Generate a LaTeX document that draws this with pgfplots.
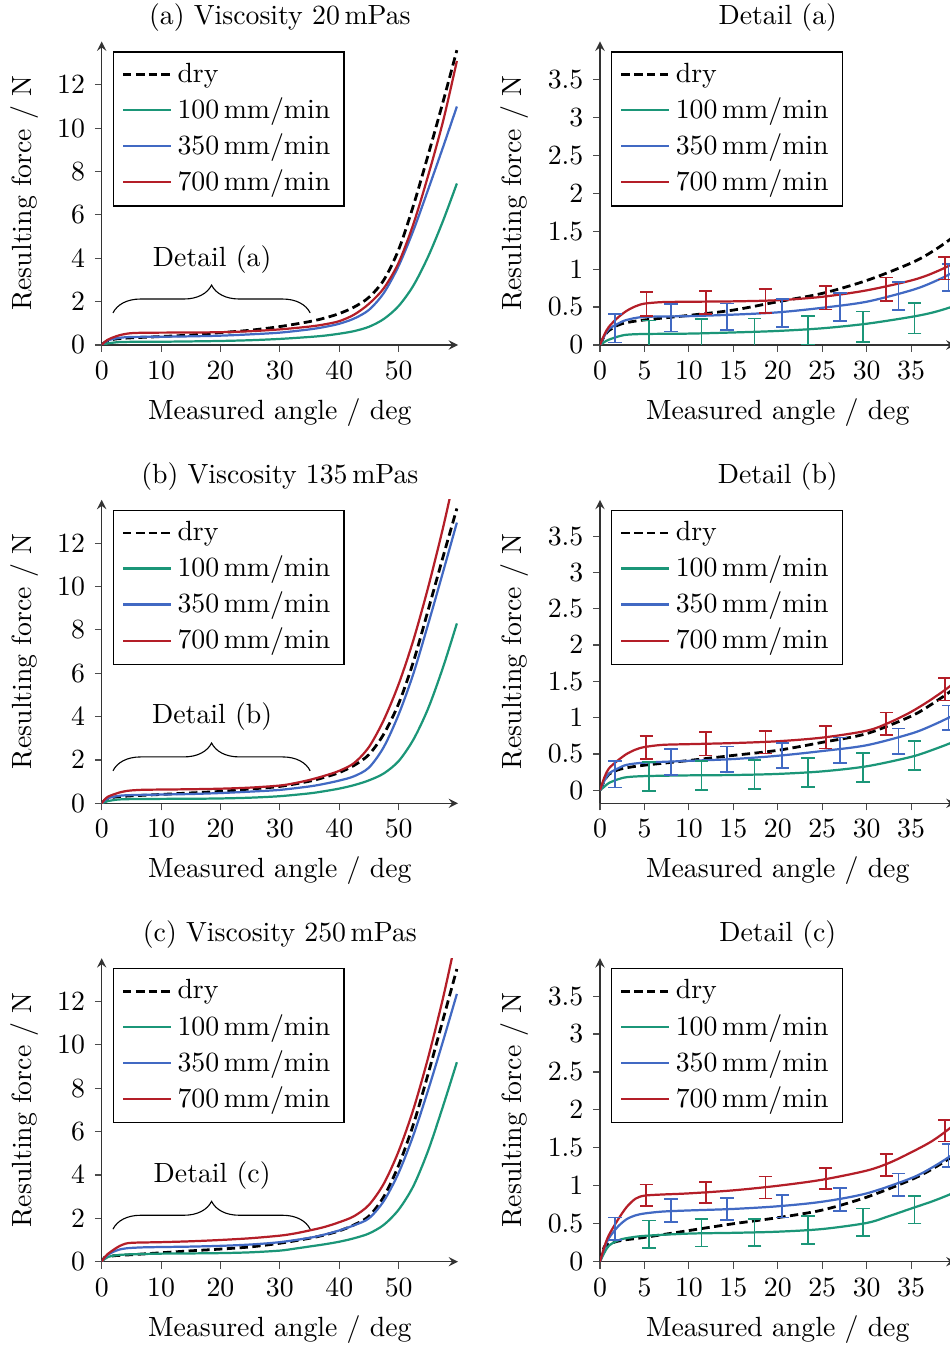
\documentclass[border=0pt]{standalone}
\usepackage{pgfplots}
\pgfplotsset{compat=1.18}
\usepackage{pgfplotstable}
\usetikzlibrary{decorations.pathreplacing}

\definecolor{cgreen}{RGB}{27,150,120}
\definecolor{cblue}{RGB}{65,105,195}
\definecolor{cred}{RGB}{180,30,40}

% ---------- (a) 20 mPas ----------
\pgfplotstableread{
x y
0 0
0.5 0.12
1 0.19
2 0.26
3 0.295
5 0.33
10 0.39
15 0.46
20 0.57
25 0.68
30 0.85
35 1.08
37.5 1.24
40 1.45
42.5 1.75
45 2.2
47.5 3.0
50 4.4
52.5 6.45
55 8.8
57.5 11.25
59.8 13.6
}\drya
\pgfplotstableread{
x y
0 0
0.5 0.04
1 0.07
2 0.11
3 0.135
5 0.145
10 0.15
15 0.165
20 0.185
25 0.22
30 0.28
35 0.37
37.5 0.43
40 0.52
42.5 0.64
45 0.84
47.5 1.2
50 1.8
52.5 2.75
55 4.1
57.5 5.75
59.8 7.45
}\greena
\pgfplotstableread{
x y
0 0
0.5 0.12
1 0.21
2 0.28
3 0.33
5 0.37
10 0.38
15 0.40
20 0.43
25 0.49
30 0.57
35 0.72
37.5 0.83
40 0.98
42.5 1.22
45 1.62
47.5 2.4
50 3.65
52.5 5.3
55 7.2
57.5 9.15
59.8 11.0
}\bluea
\pgfplotstableread{
x y
0 0
0.5 0.14
1 0.24
2 0.36
3 0.45
4 0.51
5 0.545
7 0.565
10 0.57
15 0.575
20 0.59
25 0.635
30 0.72
35 0.85
37.5 0.95
40 1.1
42.5 1.4
45 1.9
47.5 2.62
50 3.8
52.5 5.6
55 7.85
57.5 10.35
59.8 13.1
}\reda
\pgfplotstableread{
x y e
5.5 0.15 0.17
11.4 0.16 0.18
17.4 0.17 0.18
23.4 0.19 0.19
29.6 0.24 0.20
35.4 0.35 0.20
}\errga
\pgfplotstableread{
x y e
1.7 0.22 0.19
8.0 0.36 0.18
14.3 0.37 0.175
20.5 0.42 0.185
27.0 0.50 0.185
33.6 0.645 0.185
39.2 0.89 0.18
}\errba
\pgfplotstableread{
x y e
5.25 0.54 0.16
11.9 0.56 0.15
18.6 0.58 0.155
25.4 0.625 0.155
32.2 0.735 0.155
38.8 1.01 0.15
}\errra

% ---------- (b) 135 mPas ----------
\pgfplotstableread{
x y
0 0
0.5 0.13
1 0.22
2 0.28
3 0.31
5 0.345
10 0.41
15 0.48
20 0.55
25 0.66
30 0.78
35 1.02
37.5 1.2
40 1.42
42.5 1.75
45 2.25
47.5 3.2
50 4.6
52.5 6.55
55 8.95
57.5 11.4
59.8 13.6
}\dryb
\pgfplotstableread{
x y
0 0
0.5 0.05
1 0.1
2 0.15
3 0.18
5 0.195
10 0.205
15 0.21
20 0.225
25 0.26
30 0.33
35 0.46
37.5 0.56
40 0.68
42.5 0.84
45 1.06
47.5 1.38
50 1.95
52.5 2.95
55 4.4
57.5 6.3
59.8 8.3
}\greenb
\pgfplotstableread{
x y
0 0
0.5 0.13
1 0.23
2 0.3
3 0.35
5 0.38
10 0.405
15 0.43
20 0.475
25 0.54
30 0.62
35 0.78
37.5 0.9
40 1.05
42.5 1.25
45 1.65
47.5 2.6
50 4.1
52.5 6.0
55 8.3
57.5 10.7
59.8 12.95
}\blueb
\pgfplotstableread{
x y
0 0
0.5 0.18
1 0.3
2 0.41
3 0.5
4 0.56
5 0.595
7 0.625
10 0.635
15 0.65
20 0.675
25 0.725
30 0.82
32.5 0.93
35 1.08
37.5 1.27
40 1.5
42.5 1.86
45 2.6
47.5 3.85
50 5.5
52.5 7.55
55 10.0
57.5 12.75
59.5 15.2
}\redb
\pgfplotstableread{
x y e
5.5 0.19 0.20
11.4 0.205 0.20
17.4 0.215 0.20
23.4 0.245 0.20
29.6 0.315 0.20
35.4 0.48 0.20
}\errgb
\pgfplotstableread{
x y e
1.7 0.22 0.18
8.0 0.39 0.18
14.3 0.425 0.175
20.5 0.48 0.17
27.0 0.55 0.175
33.6 0.675 0.175
39.2 1.0 0.17
}\errbb
\pgfplotstableread{
x y e
5.2 0.59 0.16
11.9 0.64 0.16
18.6 0.66 0.155
25.4 0.73 0.155
32.2 0.915 0.155
38.8 1.39 0.155
}\errrb

% ---------- (c) 250 mPas ----------
\pgfplotstableread{
x y
0 0
0.5 0.2
1 0.23
2 0.27
3 0.29
5 0.32
10 0.41
15 0.5
20 0.58
25 0.68
30 0.85
35 1.08
37.5 1.23
40 1.42
42.5 1.7
45 2.1
47.5 3.0
50 4.45
52.5 6.35
55 8.7
57.5 11.2
59.8 13.5
}\dryc
\pgfplotstableread{
x y
0 0
0.5 0.12
1 0.21
2 0.28
3 0.31
5 0.34
10 0.37
15 0.38
20 0.395
25 0.43
30 0.51
32.5 0.6
35 0.7
37.5 0.8
40 0.92
42.5 1.08
45 1.3
47.5 1.7
50 2.4
52.5 3.5
55 5.15
57.5 7.2
59.8 9.2
}\greenc
\pgfplotstableread{
x y
0 0
0.5 0.18
1 0.31
2 0.46
3 0.56
4 0.61
5 0.635
7 0.66
10 0.675
15 0.695
20 0.73
25 0.79
30 0.9
35 1.1
37.5 1.25
40 1.44
42.5 1.68
45 2.0
47.5 2.8
50 4.1
52.5 5.85
55 7.95
57.5 10.2
59.8 12.35
}\bluec
\pgfplotstableread{
x y
0 0
0.5 0.2
1 0.35
2 0.55
3 0.72
4 0.83
5 0.87
7 0.885
10 0.9
15 0.94
20 1.0
25 1.08
30 1.2
32.5 1.3
35 1.44
37.5 1.6
40 1.82
42.5 2.1
45 2.62
47.5 3.6
50 5.1
52.5 7.05
55 9.45
57.5 12.2
59.5 14.7
}\redc
\pgfplotstableread{
x y e
5.5 0.36 0.18
11.4 0.38 0.18
17.4 0.385 0.18
23.4 0.42 0.185
29.6 0.52 0.18
35.4 0.685 0.18
}\errgc
\pgfplotstableread{
x y e
1.7 0.435 0.15
8.0 0.675 0.15
14.3 0.695 0.145
20.5 0.73 0.15
27.0 0.82 0.15
33.6 1.015 0.15
39.2 1.40 0.15
}\errbc
\pgfplotstableread{
x y e
5.2 0.875 0.14
11.9 0.91 0.14
18.6 0.98 0.145
25.4 1.095 0.14
32.2 1.275 0.145
38.8 1.725 0.14
}\errrc

\pgfplotsset{
  base/.style={
    scale only axis, anchor=south west,
    axis lines=left, tick align=outside, major tick length=2.5pt,
    axis line style={line width=0.5pt, black!80},
    tick style={line width=0.4pt, black!70},
    xlabel={Measured angle / deg}, ylabel={Resulting force / N},
    title style={yshift=-6pt},
    legend cell align=left,
    legend style={at={(0.031,0.968)}, anchor=north west, draw=black,
      line width=0.5pt, fill=white},
  },
  leftax/.style={base, width=128.3pt, height=109.26pt,
    xmin=0, xmax=60, ymin=0, ymax=14,
    xtick={0,10,20,30,40,50}, ytick={0,2,4,6,8,10,12}},
  rightax/.style={base, width=128.0pt, height=109.26pt,
    xmin=0, xmax=40, ymin=0, ymax=4,
    xtick={0,5,10,15,20,25,30,35}, ytick={0,0.5,1,1.5,2,2.5,3,3.5}},
  dryst/.style={black, line width=1pt, dash pattern=on 3pt off 1.6pt, smooth},
  gst/.style={cgreen, line width=0.8pt, smooth},
  bst/.style={cblue, line width=0.8pt, smooth},
  rst/.style={cred, line width=0.8pt, smooth},
  ebar/.style={draw=none, mark=none, color=#1, forget plot,
    error bars/y dir=both, error bars/y explicit,
    error bars/error mark=-,
    error bars/error bar style={draw=#1, line width=0.55pt, solid},
    error bars/error mark options={rotate=90, draw=#1, mark size=2.4pt, line width=0.55pt, solid}},
}

\newcommand\legendall{%
  \addlegendentry{dry}
  \addlegendentry{100\,mm/min}
  \addlegendentry{350\,mm/min}
  \addlegendentry{700\,mm/min}}

\begin{document}
\begin{tikzpicture}
% ===== row (a) =====
\begin{axis}[leftax, at={(36.61pt,360pt)}, title={(a) Viscosity 20\,mPas}]
  \addplot[dryst] table {\drya};
  \addplot[gst] table {\greena};
  \addplot[bst] table {\bluea};
  \addplot[rst] table {\reda};
  \legendall
  \draw[decorate, decoration={brace, amplitude=10pt}, line width=0.4pt]
    (axis cs:1.9,1.48) -- (axis cs:35.1,1.48);
  \node at (axis cs:18.6,3.95) {Detail (a)};
\end{axis}
\begin{axis}[rightax, at={(216pt,360pt)}, title={Detail (a)}]
  \addplot[dryst] table {\drya};
  \addplot[gst] table {\greena};
  \addplot[bst] table {\bluea};
  \addplot[rst] table {\reda};
  \legendall
  \addplot[ebar=cgreen] table[x=x, y=y, y error=e] {\errga};
  \addplot[ebar=cblue] table[x=x, y=y, y error=e] {\errba};
  \addplot[ebar=cred] table[x=x, y=y, y error=e] {\errra};
\end{axis}
% ===== row (b) =====
\begin{axis}[leftax, at={(36.61pt,195.0pt)}, title={(b) Viscosity 135\,mPas}]
  \addplot[dryst] table {\dryb};
  \addplot[gst] table {\greenb};
  \addplot[bst] table {\blueb};
  \addplot[rst] table {\redb};
  \legendall
  \draw[decorate, decoration={brace, amplitude=10pt}, line width=0.4pt]
    (axis cs:1.9,1.5) -- (axis cs:35.1,1.5);
  \node at (axis cs:18.6,3.98) {Detail (b)};
\end{axis}
\begin{axis}[rightax, ymin=-0.18, at={(216pt,195.0pt)}, title={Detail (b)}]
  \addplot[dryst] table {\dryb};
  \addplot[gst] table {\greenb};
  \addplot[bst] table {\blueb};
  \addplot[rst] table {\redb};
  \legendall
  \addplot[ebar=cgreen] table[x=x, y=y, y error=e] {\errgb};
  \addplot[ebar=cblue] table[x=x, y=y, y error=e] {\errbb};
  \addplot[ebar=cred] table[x=x, y=y, y error=e] {\errrb};
\end{axis}
% ===== row (c) =====
\begin{axis}[leftax, at={(36.61pt,30.0pt)}, title={(c) Viscosity 250\,mPas}]
  \addplot[dryst] table {\dryc};
  \addplot[gst] table {\greenc};
  \addplot[bst] table {\bluec};
  \addplot[rst] table {\redc};
  \legendall
  \draw[decorate, decoration={brace, amplitude=10pt}, line width=0.4pt]
    (axis cs:1.9,1.5) -- (axis cs:35.1,1.5);
  \node at (axis cs:18.6,3.99) {Detail (c)};
\end{axis}
\begin{axis}[rightax, at={(216pt,30.0pt)}, title={Detail (c)}]
  \addplot[dryst] table {\dryc};
  \addplot[gst] table {\greenc};
  \addplot[bst] table {\bluec};
  \addplot[rst] table {\redc};
  \legendall
  \addplot[ebar=cgreen] table[x=x, y=y, y error=e] {\errgc};
  \addplot[ebar=cblue] table[x=x, y=y, y error=e] {\errbc};
  \addplot[ebar=cred] table[x=x, y=y, y error=e] {\errrc};
\end{axis}
\pgfresetboundingbox
\path[use as bounding box] (0,0) rectangle (342pt,484.2pt);
\end{tikzpicture}
\end{document}
